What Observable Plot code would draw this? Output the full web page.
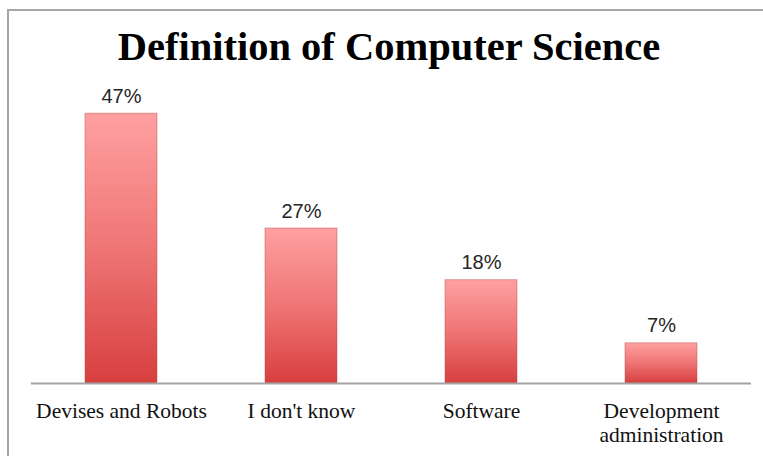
<!DOCTYPE html>
<html>
<head>
<meta charset="utf-8">
<script src="https://cdn.jsdelivr.net/npm/d3@7"></script>
<script src="https://cdn.jsdelivr.net/npm/@observablehq/plot@0.6"></script>
<style>
  html, body { margin: 0; padding: 0; background: #fff; }
  #wrap { position: relative; width: 763px; height: 456px; overflow: hidden; background: #fff; }
  #frame { position: absolute; left: 7px; top: 9px; width: 800px; height: 500px;
           border-left: 2px solid #a6a6a6; border-top: 2px solid #a6a6a6; box-sizing: border-box; }
  #title { position: relative; height: 80px; box-sizing: border-box; padding-top: 27px; padding-left: 15px;
           text-align: center; font-family: "Liberation Serif", serif; font-weight: bold;
           font-size: 40.5px; line-height: 40px; color: #000; }
  #chart { position: relative; }
  svg { display: block; }
</style>
</head>
<body>
<div id="wrap">
  <div id="frame"></div>
  <div id="title">Definition of Computer Science</div>
  <div id="chart"></div>
</div>
<script>
const categories = ["Devises and Robots", "I don't know", "Software", "Development administration"];
const tickLabels = ["Devises and Robots", "I don't know", "Software", "Development\nadministration"];
const values = [47, 27, 18, 7];
const valueLabels = ["47%", "27%", "18%", "7%"];

const data = categories.map((c, i) => ({category: c, value: values[i], label: valueLabels[i], tick: tickLabels[i]}));

const plot = Plot.plot({
  width: 763,
  height: 376,
  marginLeft: 31,
  marginRight: 12,
  marginTop: 16,
  marginBottom: 73,
  style: {background: "transparent", overflow: "visible"},
  x: {domain: categories, paddingInner: 0.6, paddingOuter: 0.3, axis: null},
  y: {domain: [0, 50], axis: null},
  marks: [
    () => {
      const svg = d3.create("svg:defs");
      const g = svg.append("linearGradient").attr("id", "barGrad").attr("x1", 0).attr("y1", 0).attr("x2", 0).attr("y2", 1);
      g.append("stop").attr("offset", "0%").attr("stop-color", "#ffa0a0");
      g.append("stop").attr("offset", "50%").attr("stop-color", "#ef7575");
      g.append("stop").attr("offset", "100%").attr("stop-color", "#d83f3f");
      return svg.node();
    },
    Plot.barY(data, {x: "category", y: "value", fill: "url(#barGrad)", stroke: "#b84a4a", strokeOpacity: 0.45, strokeWidth: 1}),
    Plot.ruleY([0], {stroke: "#a3a3a3", strokeWidth: 2}),
    Plot.text(data, {x: "category", y: "value", text: "label", dy: -11, lineAnchor: "bottom",
      fontSize: 20, fontFamily: "Liberation Sans, sans-serif", fill: "#262626"}),
    Plot.text(data, {x: "category", frameAnchor: "bottom", text: "tick", lineAnchor: "top", dy: 17,
      fontSize: 21.5, lineHeight: 1.12, fontFamily: "Liberation Serif, serif", fill: "#111"})
  ]
});
document.getElementById("chart").appendChild(plot);
</script>
</body>
</html>
